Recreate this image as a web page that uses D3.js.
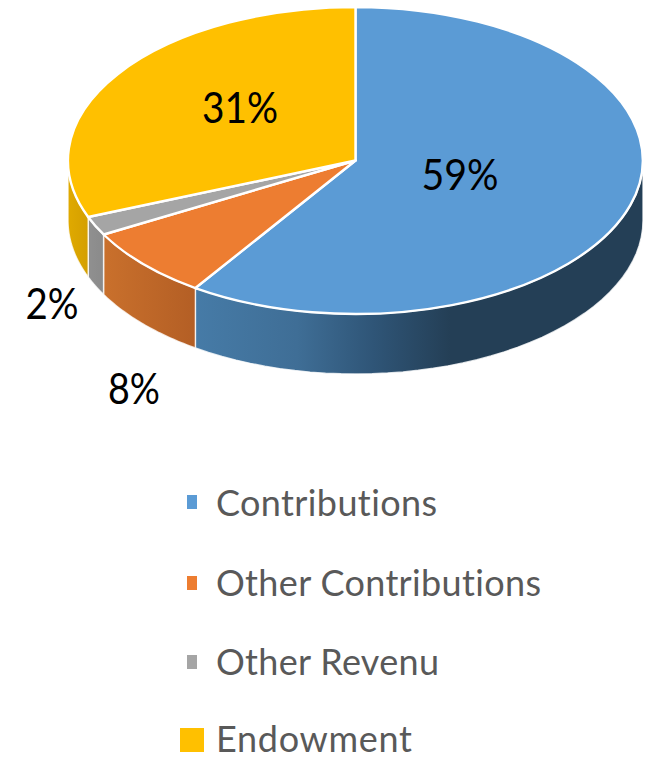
<!DOCTYPE html>
<html><head><meta charset="utf-8">
<script src="https://cdn.jsdelivr.net/npm/d3@7"></script>
<style>html,body{margin:0;padding:0;background:#fff}svg{display:block}text{font-family:Lato,"Open Sans",sans-serif;font-variant-ligatures:none}</style>
</head><body><svg id="c" width="659" height="759"></svg>
<script>
const categories=["Contributions","Other Contributions","Other Revenu","Endowment"];
const values=[59.4,7.6,2,31];
const labels=["59%","8%","2%","31%"];
const topColors=["#5b9bd5","#ed7d31","#a5a5a5","#ffc000"];
const wallStops=[[["0","#467ba7"],["0.4","#3f6e96"],["0.7","#2f5577"],["1","#243f56"]],[["0","#c9702c"],["1","#b45f25"]],[["0","#909090"],["1","#8a8a8a"]],[["0","#e0aa00"],["1","#d49f00"]]];
const wallExtents=[[195,450],[104,193],[88,104],[67,88]];
const labelPos=[[460,173],[134,387],[52,302],[240,106]];
const labelWidths=[77,52,53,76];
const legendY=[516,596,675,752];
const legendWidths=[221,325,223,196];
const markerX=[187,187,187,180], markerW=[10,10,10,24], markerH=[14,14,14,24], markerY=[495,576,655,728];
const legendFont=36, labelFont=43;
const cx=355.5,cy=160.5,rx=287.5,ry=153.5,depth=60;

const svg=d3.select("#c");
const defs=svg.append("defs");
const arcs=d3.pie().sort(null).value(d=>d)(values);
const X=d3.scaleLinear().domain([-1,1]).range([cx-rx,cx+rx]);
const Y=d3.scaleLinear().domain([-1,1]).range([cy-ry,cy+ry]);
const ptX=a=>X(Math.sin(a)), ptY=a=>Y(-Math.cos(a));
const angles=(a,b)=>d3.range(0,41).map(i=>a+(b-a)*i/40);

wallStops.forEach((st,i)=>{
  const g=defs.append("linearGradient").attr("id","w"+i).attr("gradientUnits","userSpaceOnUse")
    .attr("x1",wallExtents[i][0]).attr("x2",wallExtents[i][1]).attr("y1",0).attr("y2",0);
  st.forEach(s=>g.append("stop").attr("offset",s[0]).attr("stop-color",s[1]));
});

// side walls, drawn where the rim faces the viewer
const wallLine=d3.line();
const walls=svg.append("g");
arcs.forEach((d,i)=>{
  const a=Math.max(d.startAngle,Math.PI/2), b=Math.min(d.endAngle,Math.PI*1.5);
  if(a>=b) return;
  const rim=angles(a,b);
  const pts=rim.map(t=>[ptX(t),ptY(t)]).concat(rim.slice().reverse().map(t=>[ptX(t),ptY(t)+depth]));
  walls.append("path").attr("d",wallLine(pts)+"Z").attr("fill",`url(#w${i})`)
    .attr("stroke","#fff").attr("stroke-width",1.4).attr("stroke-opacity",0.8).attr("stroke-linejoin","round");
});

// top face
const arcGen=d3.arc().innerRadius(0).outerRadius(1);
const face=svg.append("g").attr("transform",`translate(${cx},${cy}) scale(${rx},${ry})`);
face.selectAll("path").data(arcs).join("path").attr("d",arcGen)
  .attr("fill",(d,i)=>topColors[i]).attr("stroke","#fff").attr("stroke-width",2.4)
  .attr("stroke-linejoin","round").attr("vector-effect","non-scaling-stroke");

svg.append("g").selectAll("text").data(labels).join("text")
  .attr("x",(d,i)=>labelPos[i][0]-labelWidths[i]/2).attr("y",(d,i)=>labelPos[i][1])
  .attr("dominant-baseline","central")
  .attr("textLength",(d,i)=>labelWidths[i]).attr("lengthAdjust","spacingAndGlyphs")
  .attr("font-size",labelFont).attr("fill","#000").text(d=>d);

const lg=svg.append("g");
categories.forEach((c,i)=>{
  lg.append("rect").attr("x",markerX[i]).attr("y",markerY[i])
    .attr("width",markerW[i]).attr("height",markerH[i]).attr("fill",topColors[i]);
  lg.append("text").attr("x",216).attr("y",legendY[i])
    .attr("textLength",legendWidths[i]).attr("lengthAdjust","spacing")
    .attr("font-size",legendFont).attr("fill","#595959").text(c);
});
</script></body></html>
